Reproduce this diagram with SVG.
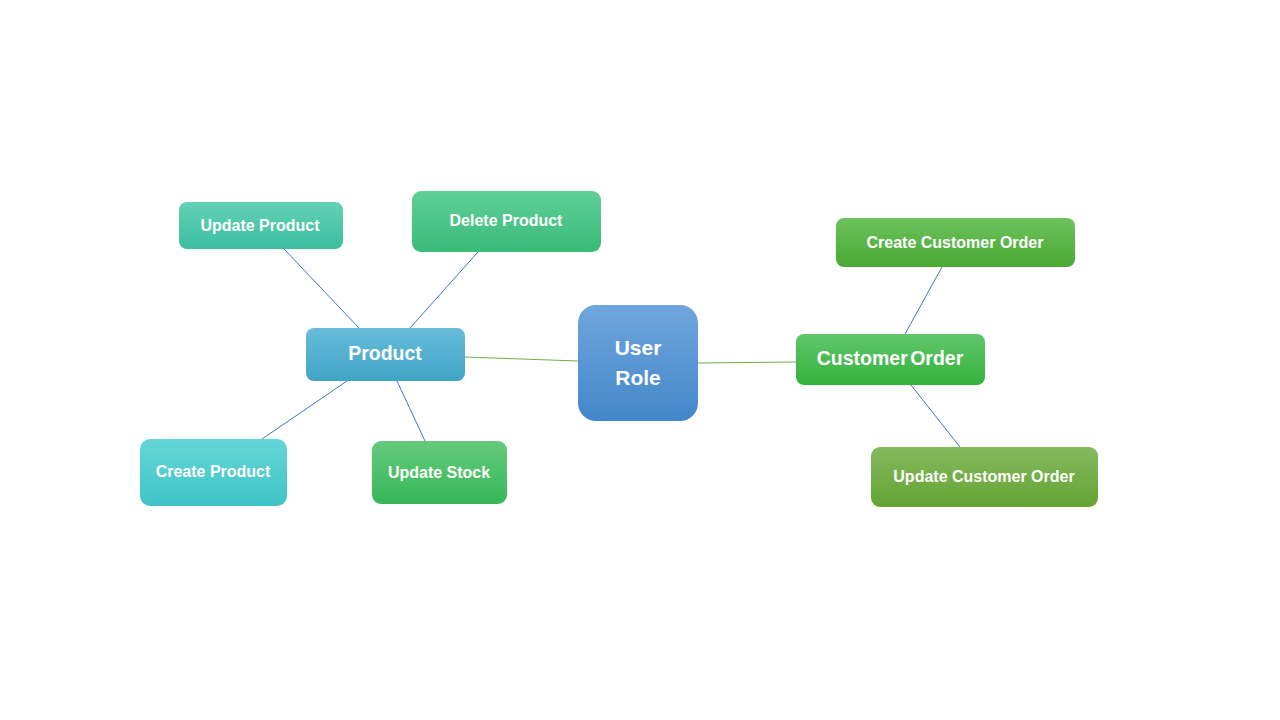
<svg xmlns="http://www.w3.org/2000/svg" width="1280" height="720" viewBox="0 0 1280 720">
<defs>
<linearGradient id="gRole" x1="0" y1="0" x2="0" y2="1"><stop offset="0" stop-color="#70A6DD"/><stop offset="1" stop-color="#4387CA"/></linearGradient>
<linearGradient id="gProd" x1="0" y1="0" x2="0" y2="1"><stop offset="0" stop-color="#68BCDA"/><stop offset="1" stop-color="#40A4C6"/></linearGradient>
<linearGradient id="gUpd" x1="0" y1="0" x2="0" y2="1"><stop offset="0" stop-color="#64D1B6"/><stop offset="1" stop-color="#3BBE9E"/></linearGradient>
<linearGradient id="gDel" x1="0" y1="0" x2="0" y2="1"><stop offset="0" stop-color="#60CF98"/><stop offset="1" stop-color="#38BB78"/></linearGradient>
<linearGradient id="gCre" x1="0" y1="0" x2="0" y2="1"><stop offset="0" stop-color="#64D6D6"/><stop offset="1" stop-color="#40C4C6"/></linearGradient>
<linearGradient id="gStk" x1="0" y1="0" x2="0" y2="1"><stop offset="0" stop-color="#65CA7C"/><stop offset="1" stop-color="#36B758"/></linearGradient>
<linearGradient id="gCO" x1="0" y1="0" x2="0" y2="1"><stop offset="0" stop-color="#60C76C"/><stop offset="1" stop-color="#35B13C"/></linearGradient>
<linearGradient id="gCCO" x1="0" y1="0" x2="0" y2="1"><stop offset="0" stop-color="#6DC25E"/><stop offset="1" stop-color="#49A933"/></linearGradient>
<linearGradient id="gUCO" x1="0" y1="0" x2="0" y2="1"><stop offset="0" stop-color="#84B95E"/><stop offset="1" stop-color="#64A433"/></linearGradient>
</defs>
<style>
text{font-family:"Liberation Sans",Arial,sans-serif;font-weight:bold;fill:#FFFFFF;text-anchor:middle}
.s{font-size:16px}
.m{font-size:19.5px}
.l{font-size:21px}
.cb{stroke:#4472C4;stroke-width:1;fill:none}
.cg{stroke:#70AD47;stroke-width:1;fill:none}
</style>
<rect width="1280" height="720" fill="#FFFFFF"/>
<g id="connectors">
<line class="cg" x1="465" y1="357" x2="578" y2="361"/>
<line class="cg" x1="698" y1="363" x2="796" y2="362"/>
<line class="cb" x1="284" y1="249" x2="359" y2="328"/>
<line class="cb" x1="478" y1="252" x2="410" y2="328"/>
<line class="cb" x1="262" y1="439" x2="347" y2="381"/>
<line class="cb" x1="397" y1="381" x2="425" y2="441"/>
<line class="cb" x1="942" y1="267" x2="905" y2="334"/>
<line class="cb" x1="911" y1="385" x2="960" y2="447"/>
</g>
<g id="user-role">
<rect x="578" y="305" width="120" height="116" rx="18" fill="url(#gRole)"/>
<text class="l" x="638" y="355">User</text>
<text class="l" x="638" y="385">Role</text>
</g>
<g id="product">
<rect x="306" y="328" width="159" height="53" rx="8" fill="url(#gProd)"/>
<text class="m" x="385" y="360">Product</text>
</g>
<g id="update-product">
<rect x="179" y="202" width="164" height="47" rx="8" fill="url(#gUpd)"/>
<text class="s" x="260" y="231">Update Product</text>
</g>
<g id="delete-product">
<rect x="412" y="191" width="189" height="61" rx="9" fill="url(#gDel)"/>
<text class="s" x="506" y="226">Delete Product</text>
</g>
<g id="create-product">
<rect x="140" y="439" width="147" height="67" rx="10" fill="url(#gCre)"/>
<text class="s" x="213" y="477">Create Product</text>
</g>
<g id="update-stock">
<rect x="372" y="441" width="135" height="63" rx="9" fill="url(#gStk)"/>
<text class="s" x="439" y="478">Update Stock</text>
</g>
<g id="customer-order">
<rect x="796" y="334" width="189" height="51" rx="8" fill="url(#gCO)"/>
<text class="m" x="890" y="365" word-spacing="-3">Customer Order</text>
</g>
<g id="create-customer-order">
<rect x="836" y="218" width="239" height="49" rx="8" fill="url(#gCCO)"/>
<text class="s" x="955" y="248">Create Customer Order</text>
</g>
<g id="update-customer-order">
<rect x="871" y="447" width="227" height="60" rx="9" fill="url(#gUCO)"/>
<text class="s" x="984" y="482">Update Customer Order</text>
</g>
</svg>
